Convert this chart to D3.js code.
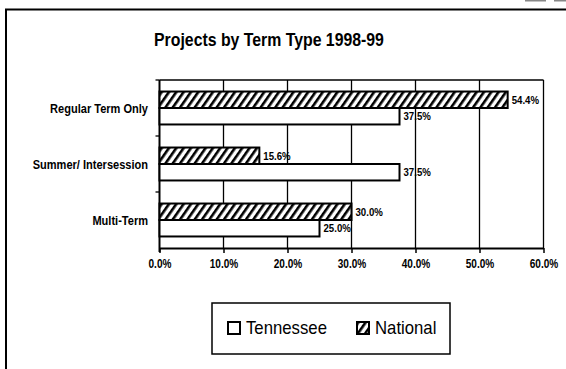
<!DOCTYPE html>
<html>
<head>
<meta charset="utf-8">
<script src="https://cdn.jsdelivr.net/npm/d3@7"></script>
<style>
  html, body { margin: 0; padding: 0; background: #fff; }
  svg { display: block; }
  text { font-family: "Liberation Sans Narrow", "Arial Narrow", "Liberation Sans", Arial, sans-serif; font-weight: bold; fill: #000; }
</style>
</head>
<body>
<svg id="chart" width="566" height="369"></svg>
<script>
// Categories, top to bottom
const categories = ["Regular Term Only", "Summer/ Intersession", "Multi-Term"];
// Share of projects (%) per category
const tennessee = [37.5, 37.5, 25.0];
const national = [54.4, 15.6, 30.0];
const seriesNames = ["National", "Tennessee"];
const xTicks = [0, 10, 20, 30, 40, 50, 60];

// Horizontal squeeze to get a narrow typeface look
const NARROW = 0.84;

const svg = d3.select("#chart");

// Hatch pattern for the National series
const defs = svg.append("defs");
const pat = defs.append("pattern")
  .attr("id", "hatch")
  .attr("patternUnits", "userSpaceOnUse")
  .attr("width", 6).attr("height", 6)
  .attr("patternTransform", "rotate(35)");
pat.append("rect").attr("width", 6).attr("height", 6).attr("fill", "#fff");
pat.append("rect").attr("x", 0).attr("y", 0).attr("width", 2.6).attr("height", 6).attr("fill", "#000");

// Outer frame
svg.append("path")
  .attr("d", "M6,369 L6,9.5 L566,9.5")
  .attr("fill", "none").attr("stroke", "#000").attr("stroke-width", 2);
svg.append("rect").attr("x", 525).attr("y", 0).attr("width", 21).attr("height", 1.5).attr("fill", "#888");
svg.append("rect").attr("x", 554).attr("y", 0).attr("width", 12).attr("height", 1.5).attr("fill", "#888");

// Title
svg.append("text")
  .attr("transform", `translate(269,46) scale(0.88,1)`)
  .attr("text-anchor", "middle")
  .style("font-size", "18px")
  .text("Projects by Term Type 1998-99");

const plot = { left: 159.5, right: 543.5, top: 80, bottom: 248 };

const x = d3.scaleLinear().domain([0, 60]).range([plot.left, plot.right]);
const y0 = d3.scaleBand().domain(categories).range([plot.top, plot.bottom]).padding(0);
const y1 = d3.scaleBand().domain(seriesNames).range([0, y0.bandwidth()]).paddingInner(0).paddingOuter(0.7);

const g = svg.append("g");

// Vertical gridlines
g.selectAll("line.grid")
  .data(xTicks.slice(1))
  .join("line")
  .attr("class", "grid")
  .attr("x1", d => x(d)).attr("x2", d => x(d))
  .attr("y1", plot.top).attr("y2", plot.bottom)
  .attr("stroke", "#000").attr("stroke-width", 1.3);

// Top border
g.append("line")
  .attr("x1", plot.left).attr("x2", plot.right)
  .attr("y1", plot.top).attr("y2", plot.top)
  .attr("stroke", "#000").attr("stroke-width", 1.3);

// X axis
const xAxis = d3.axisBottom(x)
  .tickValues(xTicks)
  .tickFormat(d => d.toFixed(1) + "%")
  .tickSize(5)
  .tickSizeOuter(0)
  .tickPadding(6);
const xg = svg.append("g")
  .attr("transform", `translate(0,${plot.bottom})`)
  .call(xAxis);
xg.attr("font-family", null).attr("font-size", null);
xg.select(".domain").attr("stroke", "#000").attr("stroke-width", 2);
xg.selectAll(".tick line").attr("stroke", "#000").attr("stroke-width", 1.5);
xg.selectAll(".tick text")
  .attr("fill", "#000")
  .attr("transform", `scale(${NARROW},1)`)
  .style("font-size", "12px");

// Y axis (category boundaries as ticks)
const yg = svg.append("g");
yg.append("line")
  .attr("x1", plot.left).attr("x2", plot.left)
  .attr("y1", plot.top).attr("y2", plot.bottom + 4)
  .attr("stroke", "#000").attr("stroke-width", 2);
yg.selectAll("line.ytick")
  .data(categories)
  .join("line")
  .attr("class", "ytick")
  .attr("x1", plot.left - 4).attr("x2", plot.left)
  .attr("y1", d => y0(d)).attr("y2", d => y0(d))
  .attr("stroke", "#000").attr("stroke-width", 1.3);
yg.selectAll("text.ylab")
  .data(categories)
  .join("text")
  .attr("class", "ylab")
  .attr("transform", d => `translate(148,${y0(d) + y0.bandwidth() / 2}) scale(0.85,1)`)
  .attr("dy", "0.35em")
  .attr("text-anchor", "end")
  .style("font-size", "13px")
  .text(d => d);

// Bars
const rows = categories.map((c, i) => ({
  cat: c,
  values: [
    { series: "National", v: national[i] },
    { series: "Tennessee", v: tennessee[i] }
  ]
}));

const groups = svg.selectAll("g.cat")
  .data(rows)
  .join("g")
  .attr("class", "cat")
  .attr("transform", d => `translate(0,${y0(d.cat)})`);

groups.selectAll("rect")
  .data(d => d.values)
  .join("rect")
  .attr("x", x(0))
  .attr("y", d => y1(d.series))
  .attr("width", d => x(d.v) - x(0))
  .attr("height", y1.bandwidth())
  .attr("fill", d => d.series === "National" ? "url(#hatch)" : "#fff")
  .attr("stroke", "#000")
  .attr("stroke-width", 2);

groups.selectAll("text.val")
  .data(d => d.values)
  .join("text")
  .attr("class", "val")
  .attr("transform", d => `translate(${x(d.v) + 4},${y1(d.series) + y1.bandwidth() / 2}) scale(${NARROW},1)`)
  .attr("dy", "0.35em")
  .style("font-size", "11.5px")
  .text(d => d.v.toFixed(1) + "%");

// Legend
const lg = svg.append("g");
lg.append("rect")
  .attr("x", 212).attr("y", 303)
  .attr("width", 238).attr("height", 51)
  .attr("fill", "#fff").attr("stroke", "#000").attr("stroke-width", 1.5);

const legendItems = [
  { name: "Tennessee", fill: "#fff", x: 228 },
  { name: "National", fill: "url(#hatch)", x: 357 }
];
const li = lg.selectAll("g.item")
  .data(legendItems)
  .join("g")
  .attr("class", "item")
  .attr("transform", d => `translate(${d.x},322)`);
li.append("rect")
  .attr("width", 12).attr("height", 12)
  .attr("fill", d => d.fill)
  .attr("stroke", "#000").attr("stroke-width", 2);
li.append("text")
  .attr("transform", "translate(18,6) scale(0.93,1)")
  .attr("dy", "0.36em")
  .style("font-size", "18px")
  .style("font-weight", "normal")
  .text(d => d.name);
</script>
</body>
</html>
